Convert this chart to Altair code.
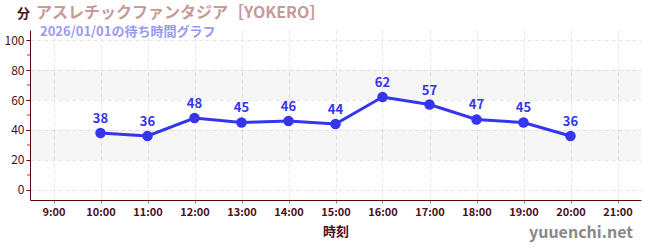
import altair as alt
import pandas as pd

hours = [10, 11, 12, 13, 14, 15, 16, 17, 18, 19, 20]
waits = [38, 36, 48, 45, 46, 44, 62, 57, 47, 45, 36]
x_ticks = [9, 10, 11, 12, 13, 14, 15, 16, 17, 18, 19, 20, 21]
y_ticks = [0, 20, 40, 60, 80, 100]
y_minor = [10, 30, 50, 70, 90]
band_lo = [20, 60]
band_hi = [40, 80]

title_text = "アスレチックファンタジア［YOKERO］"
subtitle_text = "2026/01/01の待ち時間グラフ"
unit_text = "分"
x_title = "時刻"
watermark = "yuuenchi.net"

W, H = 611, 170
FONT = "Noto Sans CJK JP"
MAROON = "#4a1020"
BLUE = "#3535ee"

df = pd.DataFrame({"hour": hours, "wait": waits})
bands = pd.DataFrame({"lo": band_lo, "hi": band_hi})
minor = pd.DataFrame({"v": y_minor})
one = pd.DataFrame({"a": [0]})

xs = alt.Scale(domain=[8.5, 21.5], nice=False, zero=False)
ys = alt.Scale(domain=[-6.67, 106.67], nice=False, zero=False)

y_axis = alt.Axis(
    values=y_ticks, title=None, labelOverlap=False,
    grid=True, gridDash=[4, 3], gridColor="#e6e6e6",
    domainColor="#5a0a0a", tickColor="#4a1020", tickSize=4,
    labelColor=MAROON, labelFont=FONT, labelFontSize=12, labelPadding=2)

x_axis = alt.Axis(
    values=x_ticks, labelExpr="datum.value + ':00'", title=x_title,
    grid=True, gridDash=[4, 3], gridColor="#e6e6e6", labelOverlap=False,
    domainColor="#5a0a0a", tickColor="#888888", tickSize=3,
    labelColor=MAROON, labelFont=FONT, labelFontSize=11, labelFontWeight="bold",
    labelPadding=3, titleColor=MAROON, titleFont=FONT, titleFontSize=13,
    titleFontWeight="bold", titlePadding=8)

band_layer = alt.Chart(bands).mark_rect(color="#000000", opacity=0.035).encode(
    x=alt.value(0), x2=alt.value(W),
    y=alt.Y("lo:Q", scale=ys, axis=y_axis), y2="hi:Q",
)

base = alt.Chart(df).encode(
    x=alt.X("hour:Q", scale=xs, axis=x_axis),
    y=alt.Y("wait:Q", scale=ys, axis=y_axis),
)

line = base.mark_line(color=BLUE, strokeWidth=3)
pts = base.mark_circle(color=BLUE, size=110, opacity=1)
labels = base.mark_text(color=BLUE, font=FONT, fontSize=13, fontWeight="bold",
                        dy=-14).encode(text="wait:Q")

minor_ticks = alt.Chart(minor).mark_rule(color="#dd2222", strokeWidth=1).encode(
    y=alt.Y("v:Q", scale=ys, axis=y_axis), x=alt.value(-3), x2=alt.value(0))

def txt(t, x, y, size, color, weight="normal", align="left"):
    return alt.Chart(one).mark_text(
        text=t, font=FONT, fontSize=size, color=color, fontWeight=weight,
        align=align, baseline="middle").encode(x=alt.value(x), y=alt.value(y))

t1 = txt(unit_text, -13, -16, 13, MAROON, "bold")
t2 = txt(title_text, 6, -17, 16, "#c99898", "bold")
t3 = txt(subtitle_text, 10, 2, 13, "#9a9af2", "bold")
t4 = txt(watermark, W - 8, 203, 16, "#888888", "bold", "right")

chart = alt.layer(band_layer, line, pts, labels, minor_ticks, t1, t2, t3, t4).properties(
    width=W, height=H,
    autosize=alt.AutoSizeParams(type="none"),
    padding={"left": 30, "top": 30, "right": 9, "bottom": 50},
).configure_view(stroke=None)

chart.save("out.html", embed_options={"renderer": "svg", "actions": False})
